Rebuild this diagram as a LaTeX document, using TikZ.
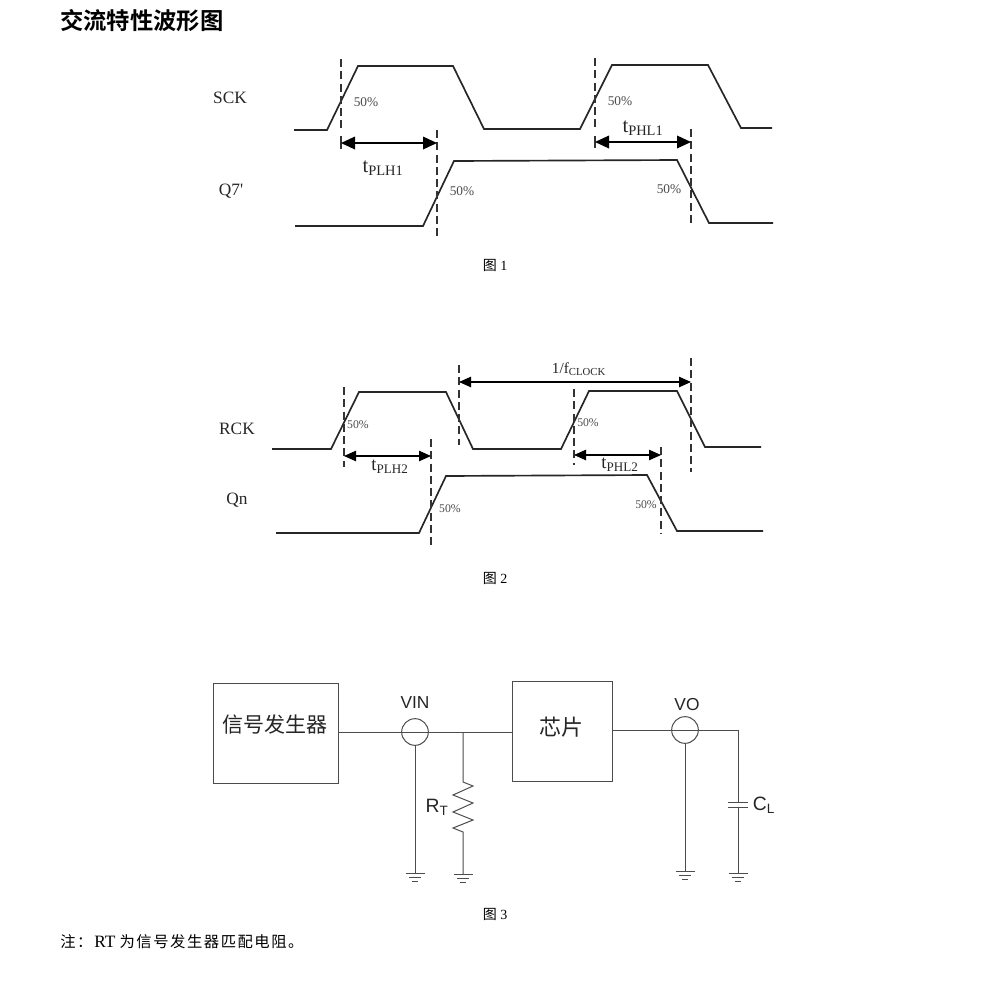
\documentclass[tikz,border=0pt]{standalone}
\usepackage{fontspec}
\setmainfont{Liberation Serif}
\newfontfamily\plainserif{Liberation Serif}
\newfontfamily\cjk{Noto Sans CJK SC}
\newfontfamily\cjkwide[LetterSpace=10]{Noto Sans CJK SC}
\newfontfamily\cjkb{Noto Sans CJK SC Bold}
\newfontfamily\arial{Liberation Sans}
\usetikzlibrary{arrows.meta}
\tikzset{
  x=0.75pt,y=-0.75pt,
  wave/.style={draw=black!85,line width=1.25pt,line join=miter},
  dashline/.style={draw=black!80,line width=0.95pt,dash pattern=on 6pt off 3.2pt},
  barline/.style={draw=black!80,line width=0.9pt},
  spanbig/.style={draw=black,line width=0.95pt,{Triangle[length=10.5pt,width=9.5pt]}-{Triangle[length=10.5pt,width=9.5pt]}},
  spansmall/.style={draw=black,line width=0.9pt,{Triangle[length=9pt,width=7.8pt]}-{Triangle[length=9pt,width=7.8pt]}},
  siglabel/.style={font=\fontsize{13}{13}\selectfont,text=black!85,inner sep=0pt},
  pct/.style={font=\fontsize{10}{10}\selectfont,text=black!70,inner sep=0pt},
  pctsmall/.style={font=\fontsize{8.8}{8.8}\selectfont,text=black!70,inner sep=0pt},
  timing/.style={font=\fontsize{15.5}{15.5}\selectfont,text=black!85,inner sep=0pt},
  timingsmall/.style={font=\fontsize{14}{14}\selectfont,text=black!85,inner sep=0pt},
  capt/.style={font=\fontsize{10.5}{10.5}\selectfont,inner sep=0pt},
  wire/.style={draw=black!70,line width=0.75pt},
  blockbox/.style={draw=black!70,line width=0.75pt,inner sep=0pt},
  meter/.style={circle,draw=black!70,line width=0.75pt,minimum size=20pt,inner sep=0pt},
  circ/.style={font=\arial\fontsize{13}{13}\selectfont,text=black!85,inner sep=0pt},
  circbig/.style={font=\arial\fontsize{14.5}{14.5}\selectfont,text=black!85,inner sep=0pt},
  gnd/.pic={\draw[black!70,line width=0.75pt] (-9.5,0)--(9.5,0) (-6,4)--(6,4) (-3,8)--(3,8);},
}
\begin{document}
\begin{tikzpicture}
\useasboundingbox (0,0) rectangle (991,1004);
\fill[white] (0,0) rectangle (991,1004);
% Title
\node[anchor=west,inner sep=0pt,font=\cjkb\fontsize{17.5}{17.5}\selectfont] (title) at (60,21) {交流特性波形图};
% Figure 1
\draw[wave] (294,130)--(327,130)--(358,66)--(453,66)--(484,129)--(580,129)--(612,65)--(708,65)--(741,128)--(772,128);
\draw[wave] (295,226)--(423,226)--(454,161)--(677,160)--(709,223)--(773,223);
\coordinate (a1t) at (341,59); \coordinate (a1b) at (341,130);
\coordinate (a1u) at (341,136); \coordinate (a1d) at (341,149);
\coordinate (a2t) at (437,130); \coordinate (a2b) at (437,238);
\coordinate (a2m) at (437,143); \coordinate (a1m) at (341,143);
\coordinate (b1t) at (595,58); \coordinate (b1b) at (595,128);
\coordinate (b1u) at (595,136); \coordinate (b1d) at (595,148);
\coordinate (b2t) at (691,129); \coordinate (b2b) at (691,224);
\coordinate (b1m) at (595,142); \coordinate (b2m) at (691,142);
\draw[dashline] (a1t)--(a1b); \draw[barline] (a1u)--(a1d);
\draw[dashline] (a2t)--(a2b);
\draw[dashline] (b1t)--(b1b); \draw[barline] (b1u)--(b1d);
\draw[dashline] (b2t)--(b2b);
\draw[spanbig] (a1m)--(a2m);
\draw[spanbig] (b1m)--(b2m);
\node[siglabel] (sck) at (230,98) {SCK};
\node[siglabel] (q7) at (231,191) {\plainserif Q7'};
\node[timing] (tplh1) at (383,168) {t\textsubscript{PLH1}};
\node[timing] (tphl1) at (643,128) {t\textsubscript{PHL1}};
\node[pct] (p1) at (366,102) {50\%};
\node[pct] (p2) at (462,191) {50\%};
\node[pct] (p3) at (620,101) {50\%};
\node[pct] (p4) at (669,189) {50\%};
\node[capt] (c1) at (495,265) {{\cjk 图} 1};
% Figure 2
\draw[wave] (272,449)--(331,449)--(359,392)--(446,392)--(473,449)--(561,449)--(589,391)--(677,391)--(705,447)--(761,447);
\draw[wave] (276,533)--(419,533)--(446,476)--(647,475)--(677,531)--(763,531);
\coordinate (c1t) at (344,387); \coordinate (c1b) at (344,467); \coordinate (c1m) at (344,456);
\coordinate (c2t) at (431,439); \coordinate (c2b) at (431,545); \coordinate (c2m) at (431,456);
\coordinate (d1t) at (459,365); \coordinate (d1b) at (459,445); \coordinate (d1m) at (459,382);
\coordinate (d2t) at (691,358); \coordinate (d2b) at (691,472); \coordinate (d2m) at (691,382);
\coordinate (e1t) at (574,389); \coordinate (e1b) at (574,465); \coordinate (e1m) at (574,455);
\coordinate (e2t) at (661,447); \coordinate (e2b) at (661,533); \coordinate (e2m) at (661,455);
\draw[dashline] (c1t)--(c1b);
\draw[dashline] (c2t)--(c2b);
\draw[dashline] (d1t)--(d1b);
\draw[dashline] (d2t)--(d2b);
\draw[dashline] (e1t)--(e1b);
\draw[dashline] (e2t)--(e2b);
\draw[spansmall] (c1m)--(c2m);
\draw[spansmall] (d1m)--(d2m);
\draw[spansmall] (e1m)--(e2m);
\node[siglabel] (rck) at (237,429) {RCK};
\node[siglabel] (qn) at (237,500) {Qn};
\node[timingsmall] (tplh2) at (390,467) {t\textsubscript{PLH2}};
\node[timingsmall] (tphl2) at (620,465) {t\textsubscript{PHL2}};
\node[timing,font=\fontsize{11.5}{11.5}\selectfont] (fclk) at (579,369) {1/f\textsubscript{CLOCK}};
\node[pctsmall] (q1) at (358,425) {50\%};
\node[pctsmall] (q2) at (450,509) {50\%};
\node[pctsmall] (q3) at (588,423) {50\%};
\node[pctsmall] (q4) at (646,505) {50\%};
\node[capt] (c2) at (495,578) {{\cjk 图} 2};
% Figure 3
\node[blockbox,minimum width=93.75pt,minimum height=75pt,anchor=north west] (gen) at (213,683) {};
\node[font=\cjk\fontsize{15.75}{15.75}\selectfont,text=black!85,inner sep=0pt] (gent) at (275,724) {信号发生器};
\node[blockbox,minimum width=75pt,minimum height=75pt,anchor=north west] (chip) at (512,681) {};
\node[font=\cjk\fontsize{16.5}{16.5}\selectfont,text=black!85,inner sep=0pt] (chipt) at (561,727) {芯片};
\node[meter] (vin) at (415,732) {};
\node[meter] (vo) at (685,730) {};
\node[circ] (vinl) at (415,703) {VIN};
\node[circ] (vol) at (687,705) {VO};
\coordinate (j) at (463,732);
\coordinate (rt) at (463,782); \coordinate (rb) at (463,832);
\coordinate (g1) at (415,873); \coordinate (g2) at (463,874);
\coordinate (g3) at (685,871); \coordinate (g4) at (738,873);
\coordinate (cr) at (738,730); \coordinate (cu) at (738,802); \coordinate (cd) at (738,807);
\draw[wire] (gen.east|-j)--(vin.west);
\draw[wire] (vin.west)--(vin.east);
\draw[wire] (vin.east)--(j)--(chip.west|-j);
\draw[wire] (chip.east|-vo)--(vo.west);
\draw[wire] (vo.west)--(vo.east);
\draw[wire] (vo.east)--(cr)--(cu);
\draw[wire] (cd)--(g4);
\draw[wire] (728,802)--(748,802) (728,807)--(748,807);
\draw[wire] (vin.south)--(g1);
\draw[wire] (vo.south)--(g3);
\draw[wire] (j)--(rt)--(473,786)--(453,795)--(473,803)--(453,812)--(473,820)--(453,828)--(rb)--(g2);
\pic at (g1) {gnd};
\pic at (g2) {gnd};
\pic at (g3) {gnd};
\pic at (g4) {gnd};
\node[circbig] (rtl) at (437,807) {R\textsubscript{T}};
\node[circbig] (cll) at (764,805) {C\textsubscript{L}};
\node[capt] (c3) at (495,914) {{\cjk 图} 3};
\node[capt,anchor=west,font=\fontsize{11.5}{11.5}\selectfont] (note) at (60,942) {{\cjkwide 注：}\hspace{1.5pt}{\fontsize{13}{13}\selectfont RT}\hspace{3pt}{\cjkwide 为信号发生器匹配电阻。}};
\end{tikzpicture}
\end{document}
